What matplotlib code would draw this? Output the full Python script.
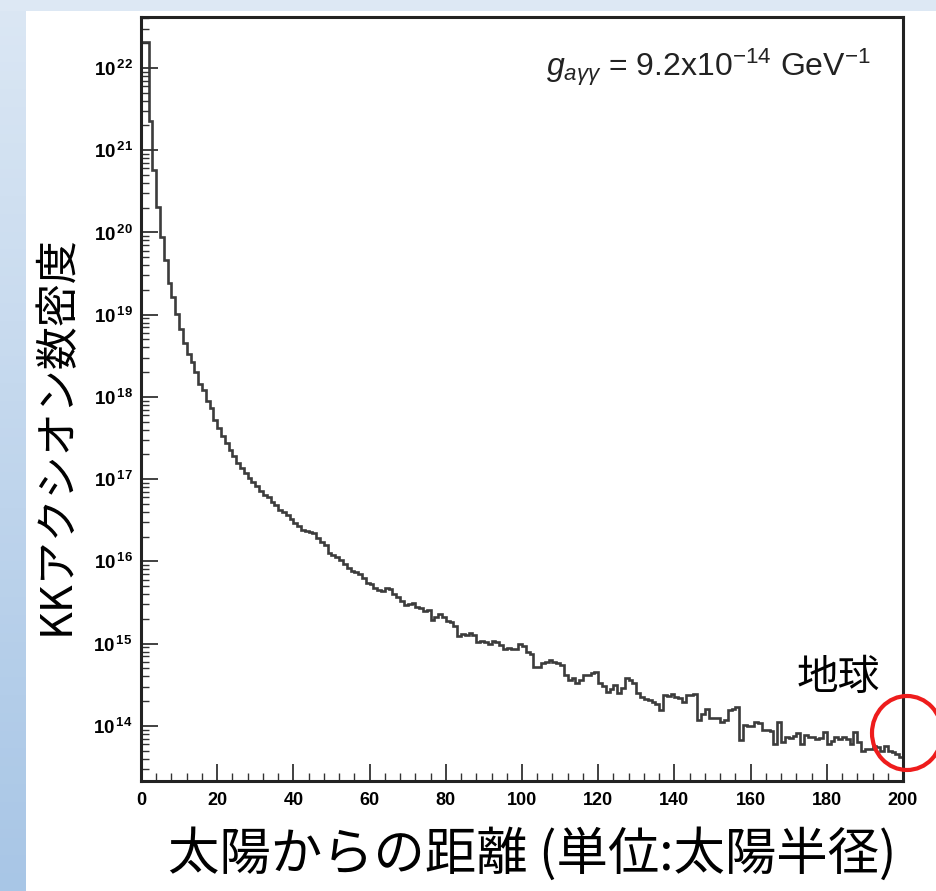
import numpy as np
import matplotlib
matplotlib.use("Agg")
import matplotlib.pyplot as plt
from matplotlib.patches import Ellipse
from matplotlib.ticker import FixedLocator, MultipleLocator, FuncFormatter, LogLocator

plt.rcParams['font.family'] = ['Liberation Sans', 'Noto Sans CJK JP', 'DejaVu Sans']
plt.rcParams['mathtext.fontset'] = 'custom'
plt.rcParams['mathtext.rm'] = 'Liberation Sans'
plt.rcParams['mathtext.it'] = 'Liberation Sans:italic'
plt.rcParams['mathtext.bf'] = 'Liberation Sans:bold'

# histogram: 200 bins of width 1 (solar radii), values as log10(density)
bin_edges = list(range(0, 201))
log_density = [
    22.32, 22.32, 21.35, 20.76, 20.31, 19.94, 19.66, 19.39, 19.21, 19.01,
    18.83, 18.66, 18.52, 18.42, 18.30, 18.16, 18.08, 17.95, 17.86, 17.72,
    17.62, 17.52, 17.44, 17.36, 17.28, 17.20, 17.14, 17.07, 17.02, 16.96,
    16.92, 16.86, 16.81, 16.78, 16.72, 16.68, 16.63, 16.60, 16.56, 16.52,
    16.47, 16.43, 16.38, 16.37, 16.36, 16.34, 16.28, 16.24, 16.20, 16.10,
    16.08, 16.05, 16.02, 15.97, 15.92, 15.88, 15.87, 15.85, 15.80, 15.74,
    15.72, 15.68, 15.65, 15.64, 15.68, 15.66, 15.60, 15.57, 15.52, 15.47,
    15.48, 15.49, 15.44, 15.43, 15.40, 15.41, 15.29, 15.33, 15.36, 15.33,
    15.28, 15.26, 15.21, 15.09, 15.12, 15.11, 15.13, 15.10, 15.02, 15.03,
    15.02, 15.00, 15.03, 15.02, 14.98, 14.94, 14.95, 14.94, 14.93, 15.00,
    14.97, 14.90, 14.88, 14.72, 14.72, 14.76, 14.78, 14.80, 14.78, 14.76,
    14.74, 14.62, 14.56, 14.58, 14.52, 14.56, 14.62, 14.62, 14.64, 14.66,
    14.52, 14.48, 14.41, 14.45, 14.50, 14.40, 14.46, 14.58, 14.56, 14.52,
    14.40, 14.35, 14.33, 14.31, 14.29, 14.27, 14.19, 14.37, 14.36, 14.39,
    14.35, 14.34, 14.29, 14.37, 14.37, 14.39, 14.07, 14.15, 14.21, 14.09,
    14.09, 14.10, 14.05, 14.07, 14.19, 14.21, 14.23, 13.83, 14.01, 14.00,
    14.00, 14.05, 14.03, 13.95, 13.95, 13.94, 13.78, 14.05, 13.80, 13.86,
    13.85, 13.88, 13.91, 13.78, 13.89, 13.87, 13.86, 13.84, 13.85, 13.93,
    13.78, 13.82, 13.86, 13.84, 13.86, 13.84, 13.78, 13.93, 13.80, 13.70,
    13.72, 13.72, 13.76, 13.74, 13.70, 13.76, 13.70, 13.68, 13.66, 13.62,
]
density = 10.0 ** np.array(log_density)

x_ticks = [0, 20, 40, 60, 80, 100, 120, 140, 160, 180, 200]
y_ticks = [1e14, 1e15, 1e16, 1e17, 1e18, 1e19, 1e20, 1e21, 1e22]

fig = plt.figure(figsize=(9.37, 8.91), dpi=100)

# slide background: light blue top band and left gradient strip
bg = fig.add_axes([0, 0, 1, 1], zorder=-10)
bg.set_xlim(0, 937)
bg.set_ylim(891, 0)
bg.axis('off')
bg.imshow(np.linspace(0, 1, 100).reshape(-1, 1), extent=(0, 26, 891, 0),
          cmap=matplotlib.colors.LinearSegmentedColormap.from_list('s', ['#dbe7f4', '#a8c6e6']),
          aspect='auto')
bg.add_patch(plt.Rectangle((0, 0), 937, 11, color='#dde8f4', lw=0))

ax = fig.add_axes([141 / 937, 1 - 781 / 891, 762 / 937, 764 / 891])
ax.stairs(density, bin_edges, baseline=None, color='#3c3c3c', lw=1.9)
ax.set_yscale('log')
ax.set_xlim(0, 200)
ax.set_ylim(10 ** 13.33, 10 ** 22.62)

for s in ax.spines.values():
    s.set_linewidth(2.2)
    s.set_color('#222222')

ax.xaxis.set_major_locator(FixedLocator(x_ticks))
ax.xaxis.set_minor_locator(MultipleLocator(4))
ax.yaxis.set_major_locator(FixedLocator(y_ticks))
ax.yaxis.set_minor_locator(LogLocator(base=10, subs=np.arange(2, 10)))
ax.yaxis.set_minor_formatter(FuncFormatter(lambda v, p: ''))
ax.yaxis.set_major_formatter(FuncFormatter(
    lambda v, p: r'$\mathbf{10^{\,%d}}$' % round(np.log10(v))))
ax.xaxis.set_major_formatter(FuncFormatter(lambda v, p: '%d' % v))

ax.tick_params(axis='both', which='both', direction='in', top=False, right=False,
               color='#333333')
ax.tick_params(axis='x', which='major', length=12, width=1.3, labelsize=13, pad=8)
ax.tick_params(axis='x', which='minor', length=6, width=1.0)
ax.tick_params(axis='y', which='major', length=12, width=1.3, labelsize=13.5, pad=6)
ax.tick_params(axis='y', which='minor', length=6, width=1.0)
for lab in ax.get_xticklabels():
    lab.set_fontweight('bold')

ax.text(0.958, 0.962, r'$g_{a\gamma\gamma}$ = 9.2x10$^{-14}$ GeV$^{-1}$',
        transform=ax.transAxes, ha='right', va='top', fontsize=23, color='#222222')

cjk = ['Noto Sans CJK JP', 'DejaVu Sans']
fig.text(57 / 937, 1 - 435 / 891, 'KKアクシオン数密度', rotation=90, ha='center',
         va='center', fontsize=31, family=cjk)
fig.text(532 / 937, 1 - 855 / 891, '太陽からの距離 (単位:太陽半径)', ha='center',
         va='center', fontsize=37, family=cjk)
fig.text(838 / 937, 1 - 678 / 891, '地球', ha='center', va='center', fontsize=30,
         family=cjk)

fig.add_artist(Ellipse((907 / 937, 1 - 733 / 891), 70 / 937, 74 / 891,
                       transform=fig.transFigure, fill=False, edgecolor='#ee1c1c',
                       lw=3, zorder=20))

fig.savefig('out.png', dpi=100)
